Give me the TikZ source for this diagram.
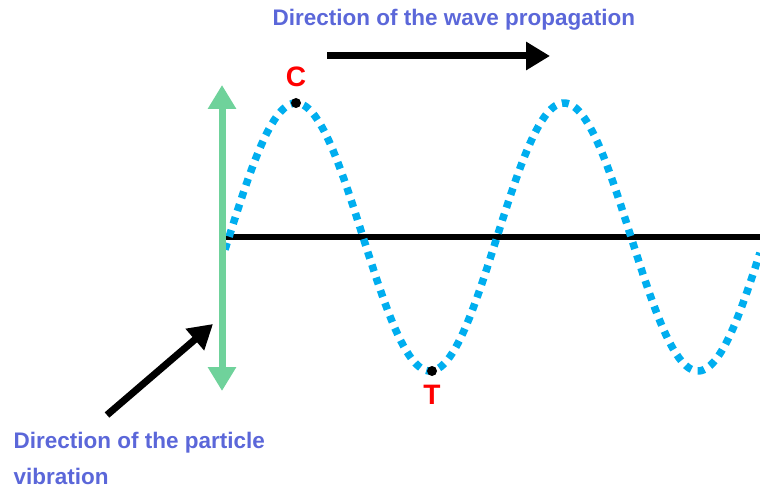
\documentclass[tikz,border=0pt]{standalone}
\usepackage{fontspec}
\setmainfont{Liberation Sans}
\usepackage{tikz}
\usetikzlibrary{arrows.meta}
\definecolor{labelblue}{RGB}{91,103,217}
\definecolor{waveblue}{RGB}{0,174,239}
\definecolor{vibgreen}{RGB}{111,210,155}
\tikzset{
  bigarrow/.style={line width=.07cm,-{Triangle[width=.27cm,length=.24cm]}},
  lbl/.style={inner sep=0pt,text=labelblue,font=\bfseries\fontsize{6.4}{10}\selectfont},
  pt/.style={inner sep=0pt,text=red,font=\bfseries\fontsize{8}{9.6}\selectfont}
}
\begin{document}
\begin{tikzpicture}[x=1cm,y=1cm,line width=.35pt]
\useasboundingbox (0,0) rectangle (7.6,4.88);
\coordinate (O) at (2.22,2.51);
\coordinate (axisend) at (7.60,2.51);
\coordinate (vtop) at (2.22,4.03);
\coordinate (vbot) at (2.22,0.97);
\coordinate (ptail) at (3.27,4.32);
\coordinate (phead) at (5.50,4.32);
\coordinate (dtail) at (1.07,0.73);
\coordinate (dhead) at (2.13,1.64);
% axis and wave
\draw[line width=.06cm] (O)--(axisend);
\draw[waveblue,line width=.075cm,dash pattern=on .07cm off .065cm]
  plot[domain=2.25:7.6,samples=120,smooth] (\x,{2.51+1.34*sin(360*(\x-2.29)/2.68)});
% arrows
\draw[vibgreen,line width=.07cm,{Triangle[width=.27cm,length=.24cm]}-{Triangle[width=.27cm,length=.24cm]}] (vtop)--(vbot);
\draw[bigarrow] (ptail)--(phead);
\draw[bigarrow] (dtail)--(dhead);
% crest and trough
\fill (2.96,3.85) circle (.05);
\fill (4.32,1.17) circle (.05);
\node[pt] (C) at (2.96,4.11) {C};
\node[pt] (T) at (4.32,0.93) {T};
\node[lbl,anchor=base west] (wave) at (2.72,4.62) {Direction of the wave propagation};
\node[lbl,anchor=north west,align=left] (particle) at (0.13,0.56) {Direction of the particle\\vibration};
\end{tikzpicture}
\end{document}
